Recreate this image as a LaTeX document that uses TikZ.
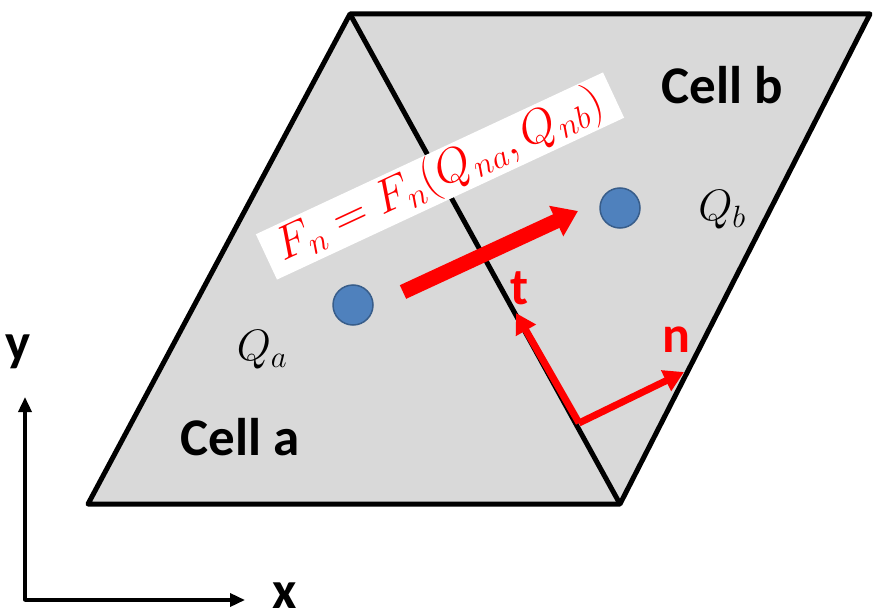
\documentclass[tikz,border=0pt]{standalone}
\usepackage{fix-cm}
\usepackage{fontspec}
\newfontfamily\calibri{Carlito}
\usetikzlibrary{arrows.meta}
\definecolor{dotblue}{HTML}{4F81BD}
\definecolor{dotedge}{HTML}{385D8A}

\begin{document}
\begin{tikzpicture}[
    x=1pt, y=-1pt,
    cell/.style={fill=black!15, draw=black, line width=5pt, line join=round},
    centre/.style={circle, fill=dotblue, draw=dotedge, line width=1.5pt, minimum size=40pt, inner sep=0pt},
    cellname/.style={font=\calibri\bfseries\fontsize{53}{58}\selectfont},
    vecname/.style={font=\calibri\bfseries\fontsize{52}{58}\selectfont, text=red},
    qname/.style={font=\fontsize{44}{50}\selectfont},
    axis/.style={line width=3.5pt, -{Triangle[length=15pt, width=13pt]}},
    vec/.style={red, line width=7pt, -{Triangle[length=20pt, width=22pt]}}
]
    \useasboundingbox (0,0) rectangle (875,615);

    % 平行四边形的顶点
    \coordinate (BL) at (88,504);   % 左下
    \coordinate (BR) at (620,504);  % 右下
    \coordinate (TR) at (870,14);   % 右上
    \coordinate (TL) at (350,14);   % 左上

    % 1. 两个单元
    \draw[cell] (BL) -- (BR) -- (TR) -- (TL) -- cycle;
    \draw[line width=5pt] (TL) -- (BR);

    % 2. 单元中心
    \node[centre] (Ca) at (353,305) {};
    \node[centre] (Cb) at (620,208) {};
    \node[qname] (Qa) at (262,350) {$Q_a$};
    \node[qname] (Qb) at (722,210) {$Q_b$};
    \node[cellname] (La) at (240,437) {Cell a};
    \node[cellname] (Lb) at (722,85) {Cell b};

    % 3. 通量公式 (白底, 旋转)
    \node[fill=white, rotate=25, minimum width=383pt, minimum height=50pt, inner sep=0pt,
          text=red, font=\fontsize{47}{52}\selectfont] (flux) at (440,176)
        {$F_n = F_n(Q_{na}, Q_{nb})$};

    % 4. 通量箭头
    \coordinate (Ftail) at (403,292);
    \coordinate (Fhead) at (578,211);
    \draw[red, line width=15pt, -{Triangle[length=24pt, width=32pt]}] (Ftail) -- (Fhead);

    % 5. 切向与法向
    \coordinate (O) at (579,423);
    \coordinate (T) at (516,313);
    \coordinate (N) at (684,372);
    \draw[vec] (O) -- (T);
    \draw[vec] (O) -- (N);
    \node[vecname] (tl) at (520,288) {t};
    \node[vecname] (nl) at (676,340) {n};

    % 6. 坐标轴
    \coordinate (A0) at (25,600);
    \coordinate (Ay) at (25,397);
    \coordinate (Ax) at (245,600);
    \draw[axis, line cap=round] (A0) -- (Ay);
    \draw[axis] (A0) -- (Ax);
    \node[cellname] (yl) at (18,352) {y};
    \node[cellname] (xl) at (285,596) {x};

\end{tikzpicture}
\end{document}
